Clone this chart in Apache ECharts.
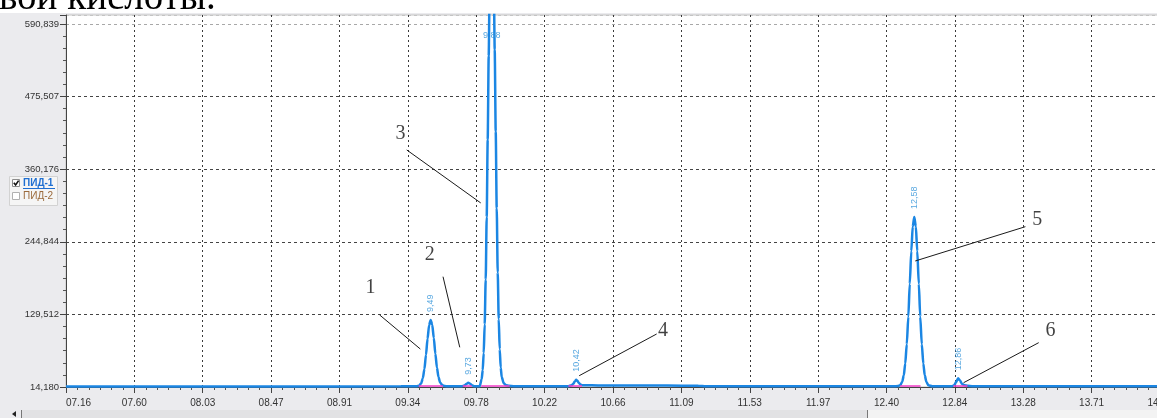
<!DOCTYPE html>
<html>
<head>
<meta charset="utf-8">
<script src="https://cdn.jsdelivr.net/npm/echarts@6/dist/echarts.min.js"></script>
<style>
  html, body { margin: 0; padding: 0; background: #ffffff; }
  #chart { width: 1157px; height: 418px; }
</style>
</head>
<body>
<div id="chart"></div>
<script>
// Chromatogram of channel ПИД-1: retention time (min) vs detector signal

// Axis tick labels
const xTickLabels = ['07.16', '07.60', '08.03', '08.47', '08.91', '09.34', '09.78', '10.22', '10.66',
                     '11.09', '11.53', '11.97', '12.40', '12.84', '13.28', '13.71', '14.15'];
const yTickLabels = ['14,180', '129,512', '244,844', '360,176', '475,507', '590,839'];
const X_MIN = 7.16, X_STEP = 0.436875, X_MAX = 14.15;
const Y_MIN = 14.18, Y_STEP = 115.332, Y_MAX = 605;

// Detector trace
const signalTime = [
  7.16, 8.50, 9.30, 9.40,
  9.415, 9.43, 9.44, 9.45, 9.46, 9.47, 9.48, 9.49, 9.50, 9.51, 9.52, 9.53, 9.54, 9.55, 9.565, 9.58, 9.60,
  9.69, 9.705, 9.718, 9.73, 9.742, 9.755, 9.77, 9.79,
  9.803, 9.816, 9.8224, 9.8288, 9.8352, 9.8416, 9.848, 9.8544, 9.8608, 9.8672, 9.8736, 9.88,
  9.8864, 9.8928, 9.8992, 9.9056, 9.912, 9.9184, 9.9248, 9.9312, 9.9376, 9.944, 9.957, 9.972, 9.99, 10.02, 10.20,
  10.37, 10.39, 10.402, 10.412, 10.42, 10.428, 10.437, 10.447, 10.46, 10.52, 10.60, 10.70, 11.00, 11.20, 11.25,
  12.00, 12.45, 12.475,
  12.49, 12.503, 12.513, 12.522, 12.532, 12.542, 12.551, 12.561, 12.570, 12.58,
  12.59, 12.599, 12.609, 12.618, 12.628, 12.638, 12.647, 12.657, 12.67, 12.695, 12.75,
  12.82, 12.835, 12.847, 12.86, 12.872, 12.885, 12.90, 12.92, 12.95, 13.10, 14.20
];
const signalValue = [
  15, 15, 15.2, 15.3,
  16, 20.3, 28.2, 42.8, 64.9, 90.7, 112.2, 120.6, 113, 92, 67, 45, 30, 21.5, 17, 15.6, 15.3,
  15.4, 16.5, 19, 21, 19.3, 16.8, 15.5, 15.3,
  15.5, 26.7, 41, 68, 114, 185, 284, 407, 540, 662, 749, 780,
  752, 668, 550, 420, 298, 196, 122, 74, 45, 30, 20, 17, 16, 15.5, 15.3,
  15.5, 16.8, 19.5, 23.5, 25.5, 24, 20.5, 18, 17, 16.8, 16.6, 16.4, 16.4, 16.0, 15.3,
  15.2, 15.3, 15.6,
  17, 22.7, 32.7, 51, 82, 126, 178, 230, 269, 284,
  269, 230, 178, 126, 82, 51, 32.7, 22.7, 17, 15.5, 15.3,
  15.4, 17, 22, 28, 24.5, 19, 17, 16, 15.5, 15.3, 15.2
];

// Detected peaks: retention time, apex height, printed label
const peakTime = [9.49, 9.73, 9.88, 10.42, 12.58, 12.86];
const peakValue = [120.6, 21, 780, 25.5, 284, 28];
const peakLabel = ['9,49', '9,73', '9,88', '10,42', '12,58', '12,86'];

// Integration baselines under the peaks
const baselineStart = [9.414, 9.695, 9.813, 10.37, 12.49, 12.83];
const baselineEnd = [9.568, 9.752, 9.995, 10.457, 12.62, 12.92];
const baselineLevel = 16.3;

// Numbered callouts: number position and leader line ends
const calloutNumber = ['1', '2', '3', '4', '5', '6'];
const calloutTextTime = [9.106, 9.484, 9.298, 10.974, 13.366, 13.450];
const calloutTextValue = [171.4, 223.9, 416.1, 103.1, 280.6, 103.6];
const calloutFromTime = [9.164, 9.569, 9.337, 10.934, 13.290, 13.375];
const calloutFromValue = [128.6, 189.4, 390.7, 98.4, 268.8, 84.6];
const calloutToTime = [9.424, 9.676, 9.810, 10.439, 12.586, 12.895];
const calloutToValue = [74.5, 77.2, 306.5, 32.1, 214.3, 21.0];

function tickText(labels, min, step) {
  return function (v) {
    const i = Math.round((v - min) / step);
    if (i < 0 || i >= labels.length) return '';
    return Math.abs(min + i * step - v) < step * 0.01 ? labels[i] : '';
  };
}

const axisFont = "'Liberation Sans Narrow', 'Liberation Sans', Arial, sans-serif";
const chart = echarts.init(document.getElementById('chart'), null, { renderer: 'canvas' });

chart.setOption({
  animation: false,
  backgroundColor: '#ebebee',
  grid: {
    left: 66, right: -3, top: 15, bottom: 31,
    outerBoundsMode: 'none', containLabel: false,
    show: true, backgroundColor: '#ffffff', borderColor: '#c4c4c4', borderWidth: 1
  },
  xAxis: {
    type: 'value', min: X_MIN, max: X_MAX, interval: X_STEP,
    axisLine: { show: true, lineStyle: { color: '#444', width: 1 } },
    axisTick: { show: true, length: 6, lineStyle: { color: '#444' } },
    minorTick: { show: true, splitNumber: 6, length: 3, lineStyle: { color: '#555' } },
    axisLabel: {
      formatter: tickText(xTickLabels, X_MIN, X_STEP), color: '#333', fontSize: 10,
      fontFamily: axisFont, margin: 11, showMaxLabel: true, showMinLabel: true, alignMinLabel: 'left',
      hideOverlap: false
    },
    splitLine: { show: true, lineStyle: { color: '#3a3a3a', type: [2, 3], width: 1 } }
  },
  yAxis: {
    type: 'value', min: Y_MIN, max: Y_MAX, interval: Y_STEP,
    axisLine: { show: true, lineStyle: { color: '#444', width: 1 } },
    axisTick: { show: true, length: 6, lineStyle: { color: '#444' } },
    minorTick: { show: true, splitNumber: 6, length: 3, lineStyle: { color: '#555' } },
    axisLabel: {
      formatter: tickText(yTickLabels, Y_MIN, Y_STEP), color: '#333', fontSize: 9.5,
      fontFamily: "'Liberation Sans', Arial, sans-serif", margin: 7
    },
    splitLine: { show: true, lineStyle: { color: ['#444', '#444', '#444', '#444', '#444', '#a8a8a8', '#c4c4c4'], type: [3, 3], width: 1 } }
  },
  graphic: [
    // white strip above the plot with the caption text
    { type: 'rect', shape: { x: 0, y: 0, width: 1157, height: 13 }, style: { fill: '#ffffff' }, silent: true, z: 1 },
    { type: 'text', x: -40, y: -1.5, z: 2, silent: true,
      style: { text: 'ловой кислоты.', font: "39px 'Liberation Serif', 'Times New Roman', serif", fill: '#000', verticalAlign: 'middle' } },
    // channel selector
    { type: 'group', z: 10, silent: true, children: [
      { type: 'rect', shape: { x: 9.5, y: 176.5, width: 48, height: 29 }, style: { fill: '#f5f5f5', stroke: '#d2d2d2', lineWidth: 1 } },
      { type: 'rect', shape: { x: 12.5, y: 179.5, width: 7, height: 7 }, style: { fill: '#ffffff', stroke: '#8c8c8c', lineWidth: 1 } },
      { type: 'polyline', shape: { points: [[13.8, 182.8], [15.6, 185], [18.6, 180.6]] }, style: { stroke: '#111', lineWidth: 1.6, fill: null } },
      { type: 'text', x: 23, y: 183, style: { text: 'ПИД-1', font: "bold 10px 'Liberation Sans', Arial, sans-serif", fill: '#1f6fd2', verticalAlign: 'middle' } },
      { type: 'line', shape: { x1: 23, y1: 188.5, x2: 55, y2: 188.5 }, style: { stroke: '#1f6fd2', lineWidth: 1 } },
      { type: 'rect', shape: { x: 12.5, y: 192.5, width: 7, height: 7 }, style: { fill: '#ffffff', stroke: '#b0b0b0', lineWidth: 1 } },
      { type: 'text', x: 23, y: 196.5, style: { text: 'ПИД-2', font: "10px 'Liberation Sans', Arial, sans-serif", fill: '#9b6a3c', verticalAlign: 'middle' } }
    ] },
    // scroll bar along the bottom edge
    { type: 'group', z: 10, silent: true, children: [
      { type: 'rect', shape: { x: 21, y: 410, width: 846, height: 8 }, style: { fill: '#e2e2e4' } },
      { type: 'rect', shape: { x: 867, y: 410, width: 290, height: 8 }, style: { fill: '#f3f3f3' } },
      { type: 'line', shape: { x1: 21.5, y1: 410, x2: 21.5, y2: 418 }, style: { stroke: '#777', lineWidth: 1 } },
      { type: 'line', shape: { x1: 867.5, y1: 410, x2: 867.5, y2: 418 }, style: { stroke: '#777', lineWidth: 1 } },
      { type: 'polygon', shape: { points: [[12, 414], [16, 411], [16, 417]] }, style: { fill: '#222' } }
    ] }
  ],
  series: [
    {
      name: 'ПИД-1', type: 'line', silent: true, z: 3,
      data: signalTime.map((t, i) => [t, signalValue[i]]),
      showSymbol: false, symbol: 'none', smooth: 0.25, smoothMonotone: 'x',
      lineStyle: { color: '#1b86e3', width: 2.5 }
    },
    {
      type: 'lines', coordinateSystem: 'cartesian2d', silent: true, z: 4,
      data: baselineStart.map((t, i) => ({ coords: [[t, baselineLevel], [baselineEnd[i], baselineLevel]] })),
      lineStyle: { color: '#f23dc9', width: 1.6, opacity: 1, curveness: 0 }
    },
    {
      type: 'scatter', silent: true, z: 5, clip: false, symbolSize: 0,
      data: peakTime.map((t, i) => {
        const item = { value: [t, Math.min(peakValue[i], Y_MAX)], name: peakLabel[i] };
        if (peakValue[i] > Y_MAX) {
          item.label = { rotate: 0, position: 'bottom', distance: 16, align: 'center', verticalAlign: 'top' };
        }
        return item;
      }),
      label: {
        show: true, formatter: p => p.name, position: 'top', distance: 8,
        rotate: 90, align: 'left', verticalAlign: 'middle',
        color: '#2d91d8', fontSize: 9, fontFamily: "'Liberation Sans', Arial, sans-serif"
      }
    },
    {
      type: 'lines', coordinateSystem: 'cartesian2d', silent: true, z: 6,
      data: calloutFromTime.map((t, i) => ({ coords: [[t, calloutFromValue[i]], [calloutToTime[i], calloutToValue[i]]] })),
      lineStyle: { color: '#1a1a1a', width: 1, opacity: 1, curveness: 0 }
    },
    {
      type: 'scatter', silent: true, z: 6, clip: false, symbolSize: 0,
      data: calloutTextTime.map((t, i) => ({ value: [t, calloutTextValue[i]], name: calloutNumber[i] })),
      label: {
        show: true, formatter: p => p.name, position: 'inside',
        color: '#111', fontSize: 20, fontFamily: "'Liberation Serif', 'Times New Roman', serif"
      }
    }
  ]
});
</script>
</body>
</html>
